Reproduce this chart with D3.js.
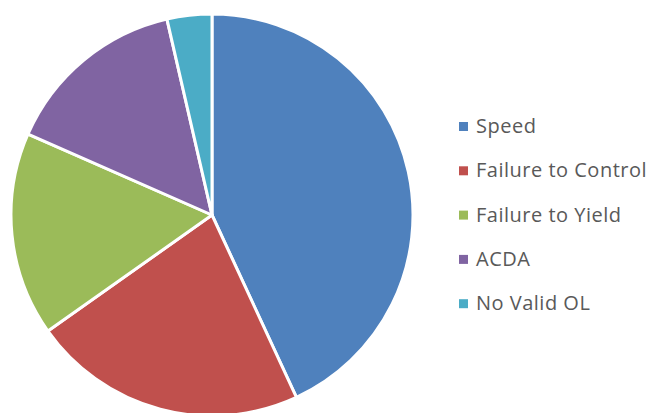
<!DOCTYPE html>
<html>
<head>
<meta charset="utf-8" />
<style>
  body { margin: 0; background: #fff; }
  svg { display: block; }
</style>
</head>
<body>
<div id="chart"></div>
<script src="https://d3js.org/d3.v7.min.js"></script>
<script>
  // data (share of total, %)
  const categories = ["Speed", "Failure to Control", "Failure to Yield", "ACDA", "No Valid OL"];
  const shares = [43.1, 22.1, 16.4, 14.8, 3.6];
  const colours = ["#4F81BD", "#C0504D", "#9BBB59", "#8064A2", "#4BACC6"];

  const width = 649, height = 413;
  const cx = 212, cy = 215, radius = 201;

  const svg = d3.select("#chart").append("svg")
    .attr("width", width)
    .attr("height", height);

  const colour = d3.scaleOrdinal().domain(categories).range(colours);

  const pie = d3.pie().sort(null).value(d => d.value);
  const arc = d3.arc().innerRadius(0).outerRadius(radius);

  const rows = categories.map((c, i) => ({ name: c, value: shares[i] }));

  svg.append("g")
    .attr("transform", `translate(${cx},${cy})`)
    .selectAll("path")
    .data(pie(rows))
    .join("path")
    .attr("d", arc)
    .attr("fill", d => colour(d.data.name))
    .attr("stroke", "#fff")
    .attr("stroke-width", 3)
    .attr("stroke-linejoin", "round");

  // legend
  const legend = svg.append("g").attr("transform", "translate(459,126.5)");
  const item = legend.selectAll("g")
    .data(categories)
    .join("g")
    .attr("transform", (d, i) => `translate(0,${i * 44.3})`);

  item.append("rect")
    .attr("x", 0).attr("y", -4.5)
    .attr("width", 9).attr("height", 9)
    .attr("fill", d => colour(d));

  item.append("text")
    .attr("x", 17).attr("y", 6.5)
    .attr("font-family", "'Open Sans', sans-serif")
    .attr("font-size", 20)
    .attr("letter-spacing", 0.5)
    .attr("fill", "#595959")
    .text(d => d);
</script>
</body>
</html>
